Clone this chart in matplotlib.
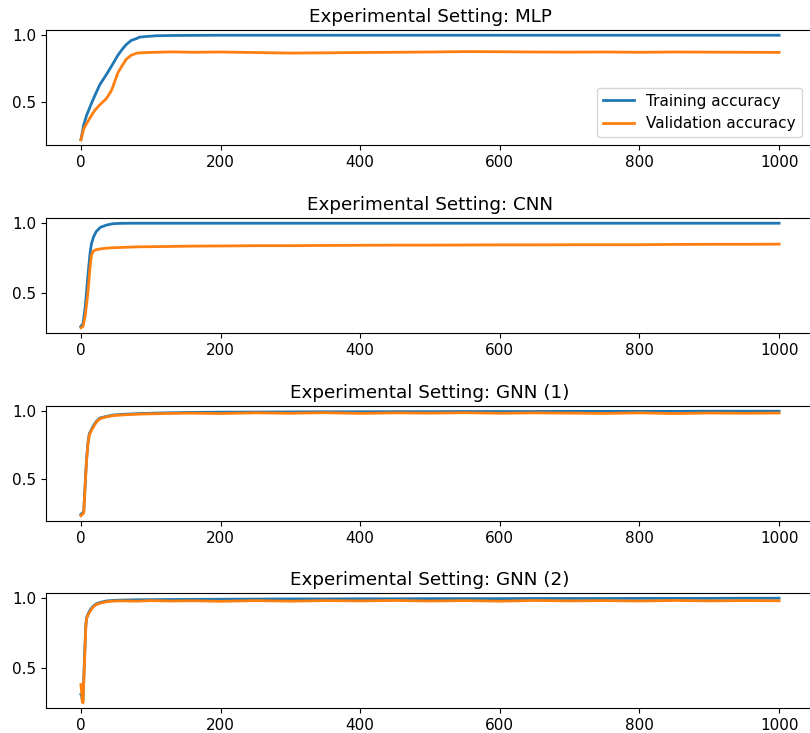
import matplotlib
matplotlib.use("Agg")
from matplotlib import pyplot as plt

plt.rcParams['font.size'] = 11

titles = ["MLP", "CNN", "GNN (1)", "GNN (2)"]

# MLP run
mlp_epochs = [0, 4, 8, 15, 20, 27, 37, 44, 53, 60, 65, 72, 80, 84, 95, 108, 130, 160, 200,
              250, 300, 350, 400, 450, 500, 550, 600, 650, 700, 750, 800, 850, 900, 950, 1000]
mlp_train = [0.22, 0.33, 0.40, 0.49, 0.55, 0.63, 0.71, 0.77, 0.85, 0.90, 0.93, 0.96, 0.975, 0.985,
             0.99, 0.995, 0.997, 0.998, 0.999, 0.999, 0.999, 0.999, 0.999, 0.999, 0.999, 0.999,
             0.999, 0.999, 0.999, 0.999, 0.999, 0.999, 0.999, 0.999, 0.999]
mlp_val = [0.22, 0.30, 0.34, 0.40, 0.44, 0.48, 0.53, 0.59, 0.72, 0.78, 0.82, 0.85, 0.865, 0.868,
           0.87, 0.872, 0.875, 0.872, 0.874, 0.870, 0.866, 0.868, 0.870, 0.872, 0.874, 0.877,
           0.876, 0.874, 0.873, 0.874, 0.872, 0.874, 0.873, 0.872, 0.871]

# CNN run
cnn_epochs = [0, 3, 6, 10, 13, 15, 18, 22, 28, 36, 45, 55, 70, 84, 120, 160, 200, 250, 300,
              350, 400, 450, 500, 550, 600, 650, 700, 750, 800, 850, 900, 950, 1000]
cnn_train = [0.26, 0.28, 0.39, 0.62, 0.78, 0.85, 0.90, 0.94, 0.97, 0.985, 0.995, 0.998, 0.999,
             0.999, 0.999, 0.999, 0.999, 0.999, 0.999, 0.999, 0.999, 0.999, 0.999, 0.999,
             0.999, 0.999, 0.999, 0.999, 0.999, 0.999, 0.999, 0.999, 0.999]
cnn_val = [0.25, 0.26, 0.33, 0.50, 0.68, 0.77, 0.80, 0.81, 0.815, 0.82, 0.823, 0.825, 0.828,
           0.830, 0.832, 0.835, 0.836, 0.838, 0.838, 0.840, 0.841, 0.842, 0.842, 0.843,
           0.844, 0.844, 0.845, 0.845, 0.845, 0.847, 0.848, 0.848, 0.849]

# GNN (1) run
gnn1_epochs = [0, 4, 6, 8, 10, 12, 15, 18, 22, 27, 35, 46, 60, 84, 120, 155, 200, 250, 300,
               350, 400, 450, 500, 550, 600, 650, 700, 750, 800, 850, 900, 950, 1000]
gnn1_train = [0.24, 0.26, 0.45, 0.64, 0.76, 0.83, 0.86, 0.89, 0.92, 0.945, 0.955, 0.967, 0.972,
              0.978, 0.983, 0.986, 0.988, 0.989, 0.990, 0.991, 0.991, 0.992, 0.992, 0.993,
              0.993, 0.993, 0.994, 0.994, 0.994, 0.994, 0.995, 0.995, 0.995]
gnn1_val = [0.23, 0.25, 0.44, 0.63, 0.75, 0.82, 0.855, 0.88, 0.915, 0.94, 0.952, 0.963, 0.968,
            0.974, 0.978, 0.981, 0.978, 0.983, 0.980, 0.984, 0.979, 0.983, 0.981, 0.984,
            0.980, 0.983, 0.981, 0.979, 0.983, 0.978, 0.982, 0.980, 0.982]

# GNN (2) run
gnn2_epochs = [0, 1, 2, 3, 5, 7, 8, 10, 13, 17, 22, 28, 36, 48, 60, 80, 100, 130, 160, 200,
               250, 300, 350, 400, 450, 500, 550, 600, 650, 700, 750, 800, 850, 900, 950, 1000]
gnn2_train = [0.31, 0.30, 0.27, 0.27, 0.55, 0.80, 0.85, 0.88, 0.91, 0.935, 0.955, 0.965, 0.975,
              0.980, 0.982, 0.984, 0.985, 0.986, 0.987, 0.988, 0.989, 0.990, 0.990, 0.991,
              0.991, 0.992, 0.992, 0.992, 0.993, 0.993, 0.993, 0.994, 0.994, 0.994, 0.995, 0.995]
gnn2_val = [0.38, 0.33, 0.26, 0.25, 0.52, 0.79, 0.845, 0.875, 0.90, 0.93, 0.95, 0.96, 0.97,
            0.975, 0.976, 0.974, 0.978, 0.975, 0.977, 0.973, 0.978, 0.974, 0.978, 0.976,
            0.979, 0.975, 0.978, 0.974, 0.979, 0.976, 0.978, 0.975, 0.979, 0.976, 0.978, 0.977]

runs = [
    (mlp_epochs, mlp_train, mlp_val),
    (cnn_epochs, cnn_train, cnn_val),
    (gnn1_epochs, gnn1_train, gnn1_val),
    (gnn2_epochs, gnn2_train, gnn2_val),
]

fig = plt.figure(figsize=(8.1, 7.33), dpi=100)

# panel tops in pixels, each panel 115 px high
tops = [30, 218, 406, 593]
left = 46 / 810
width = (814 - 46) / 810
height = 115 / 733

for i, (name, (ep, tr, va)) in enumerate(zip(titles, runs)):
    ax = fig.add_axes([left, 1 - (tops[i] + 115) / 733, width, height])
    ax.plot(ep, tr, color='#1f77b4', linewidth=2, label='Training accuracy')
    ax.plot(ep, va, color='#ff7f0e', linewidth=2, label='Validation accuracy')
    ax.set_title(f"Experimental Setting: {name}")
    ax.set_xticks([0, 200, 400, 600, 800, 1000])
    ax.set_yticks([0.5, 1.0])
    if i == 0:
        ax.legend(loc='lower right', bbox_to_anchor=(0.994, 0.0))

plt.savefig('out.png', dpi=100)
